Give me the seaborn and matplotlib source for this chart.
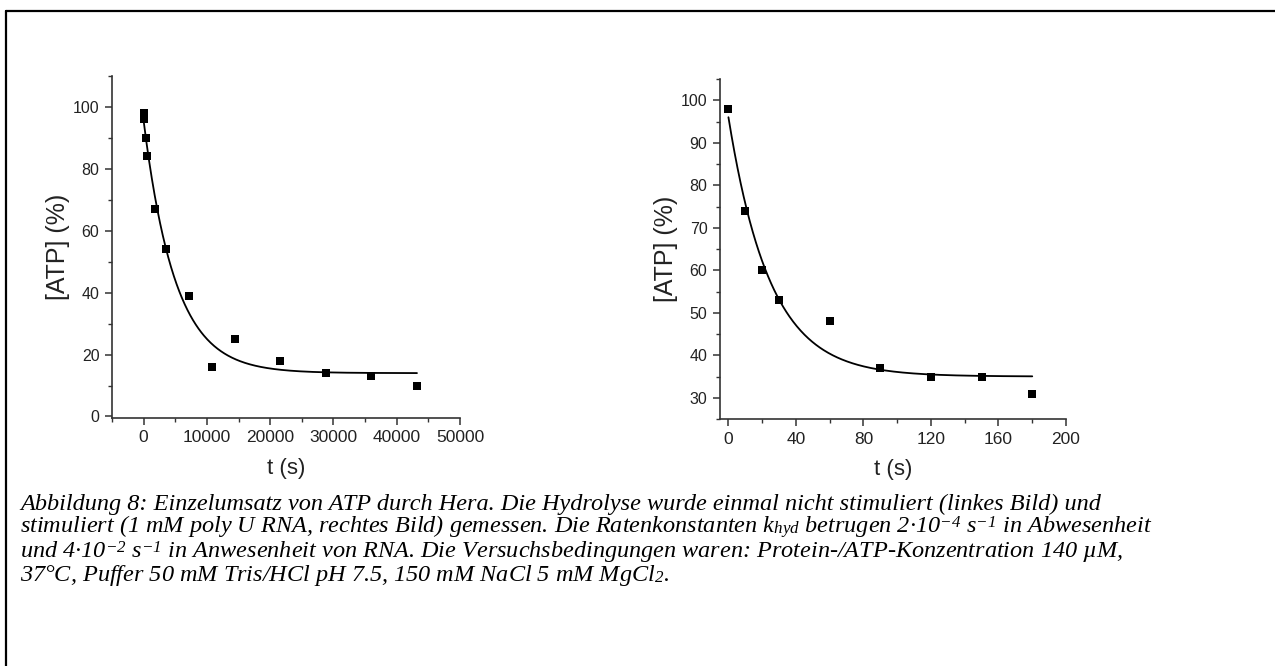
import numpy as np
import pandas as pd
import matplotlib
matplotlib.use("Agg")
import matplotlib.pyplot as plt
from matplotlib.lines import Line2D
from matplotlib.ticker import MultipleLocator
import seaborn as sns

# ---- data ----
t_left = [0, 0, 300, 600, 1800, 3600, 7200, 10800, 14400, 21600, 28800, 36000, 43200]
atp_left = [98, 96, 90, 84, 67, 54, 39, 16, 25, 18, 14, 13, 10]
t_right = [0, 10, 20, 30, 60, 90, 120, 150, 180]
atp_right = [98, 74, 60, 53, 48, 37, 35, 35, 31]

# single-exponential fit parameters: y = A*exp(-k t) + C
fit_left = dict(A=81.5, k=2.0e-4, C=14.0, tmax=43200)
fit_right = dict(A=61.0, k=4.05e-2, C=35.0, tmax=180)

xticks_left = [0, 10000, 20000, 30000, 40000, 50000]
yticks_left = [0, 20, 40, 60, 80, 100]
xticks_right = [0, 40, 80, 120, 160, 200]
yticks_right = [30, 40, 50, 60, 70, 80, 90, 100]

caption_lines = [
    "Abbildung 8: Einzelumsatz von ATP durch Hera. Die Hydrolyse wurde einmal nicht stimuliert (linkes Bild) und",
    "stimuliert (1 mM poly U RNA, rechtes Bild) gemessen. Die Ratenkonstanten $k_{hyd}$ betrugen 2·10$^{-4}$ s$^{-1}$ in Abwesenheit",
    "und 4·10$^{-2}$ s$^{-1}$ in Anwesenheit von RNA. Die Versuchsbedingungen waren: Protein-/ATP-Konzentration 140 µM,",
    "37°C, Puffer 50 mM Tris/HCl pH 7.5, 150 mM NaCl 5 mM MgCl$_{2}$.",
]

sns.set_theme(style="ticks")
plt.rcParams["font.family"] = ["Liberation Sans", "DejaVu Sans"]
plt.rcParams["mathtext.fontset"] = "custom"
plt.rcParams["mathtext.rm"] = "Liberation Serif:italic"
plt.rcParams["mathtext.it"] = "Liberation Serif:italic"
plt.rcParams["mathtext.bf"] = "Liberation Serif:italic:bold"

# slightly tighter super/subscript offsets so the tightly spaced caption lines don't collide
try:
    from matplotlib import _mathtext as _mt
    _mt.FontConstantsBase.sup1 = 0.45
    _mt.FontConstantsBase.sub1 = 0.15
except Exception:
    pass

fig = plt.figure(figsize=(12.75, 6.66), dpi=100)
W, H = 1275, 666


def ax_rect(l, t, r, b):
    return [l / W, 1 - b / H, (r - l) / W, (b - t) / H]


axL = fig.add_axes(ax_rect(112, 76, 460, 418))
axR = fig.add_axes(ax_rect(720, 79, 1066, 419))


def draw(ax, t, y, fit, xlim, ylim, xt, yt, xminor, yminor):
    df = pd.DataFrame({"t": t, "y": y})
    tt = np.linspace(0, fit["tmax"], 400)
    fdf = pd.DataFrame({"t": tt, "y": fit["A"] * np.exp(-fit["k"] * tt) + fit["C"]})
    sns.lineplot(data=fdf, x="t", y="y", ax=ax, color="black", linewidth=1.3, zorder=2)
    sns.scatterplot(data=df, x="t", y="y", ax=ax, marker="s", s=36, color="black",
                    edgecolor="black", linewidth=0, zorder=3)
    ax.set_xlim(*xlim)
    ax.set_ylim(*ylim)
    ax.set_xticks(xt)
    ax.set_yticks(yt)
    ax.xaxis.set_minor_locator(MultipleLocator(xminor))
    ax.yaxis.set_minor_locator(MultipleLocator(yminor))
    ax.tick_params(which="major", direction="out", length=5, width=1.1, color="#333333",
                   labelcolor="#222222", pad=4)
    ax.tick_params(axis="x", which="major", labelsize=12.5)
    ax.tick_params(axis="y", which="major", labelsize=11.5)
    ax.tick_params(which="minor", direction="out", length=3, width=1.0, color="#333333")
    for s in ["top", "right"]:
        ax.spines[s].set_visible(False)
    for s in ["left", "bottom"]:
        ax.spines[s].set_linewidth(1.2)
        ax.spines[s].set_color("#333333")
    ax.set_xlabel("t (s)", fontsize=16, color="#222222", labelpad=9)
    ax.set_ylabel("[ATP] (%)", fontsize=18, color="#222222", labelpad=2)
    ax.set_facecolor("white")


draw(axL, t_left, atp_left, fit_left, (-5000, 50000), (-0.5, 110),
     xticks_left, yticks_left, 5000, 10)
draw(axR, t_right, atp_right, fit_right, (-5, 200), (25, 105),
     xticks_right, yticks_right, 20, 5)

# caption
y0 = 510
dy = 23.5
for i, line in enumerate(caption_lines):
    fig.text(20 / W, 1 - (y0 + i * dy) / H, line, fontsize=17.5,
             family="Liberation Serif", style="italic", color="black",
             ha="left", va="baseline")

# border (left and top edges visible)
fig.add_artist(Line2D([5.5 / W, 5.5 / W], [0, 1 - 10.5 / H], color="black", linewidth=1.6,
                      transform=fig.transFigure))
fig.add_artist(Line2D([5.5 / W, 1.0], [1 - 10.5 / H, 1 - 10.5 / H], color="black", linewidth=1.6,
                      transform=fig.transFigure))

fig.savefig("out.png", dpi=100, facecolor="white")
